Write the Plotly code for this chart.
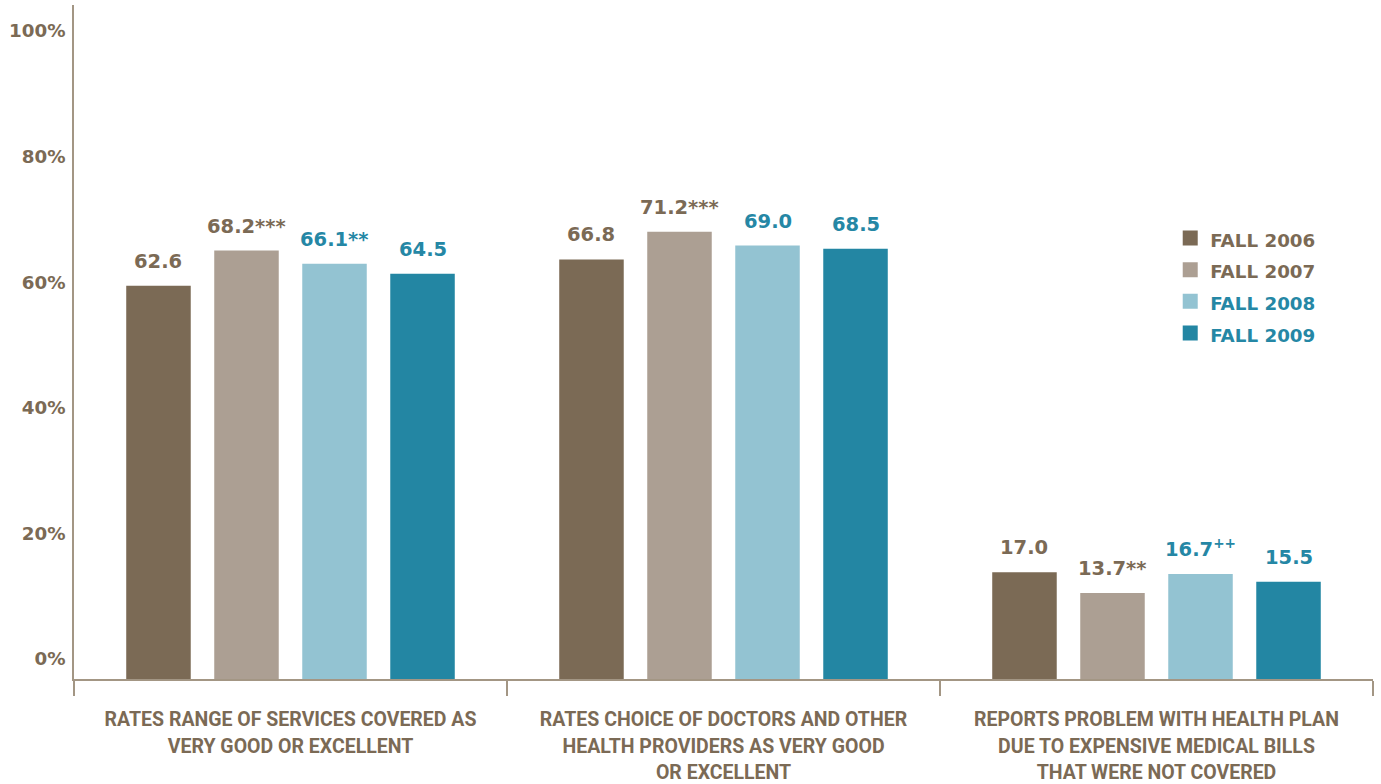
import plotly.graph_objects as go

# ---- data -------------------------------------------------------------
categories = [
    "RATES RANGE OF SERVICES COVERED AS<br>VERY GOOD OR EXCELLENT",
    "RATES CHOICE OF DOCTORS AND OTHER<br>HEALTH PROVIDERS AS VERY GOOD<br>OR EXCELLENT",
    "REPORTS PROBLEM WITH HEALTH PLAN<br>DUE TO EXPENSIVE MEDICAL BILLS<br>THAT WERE NOT COVERED",
]
series_names = ["FALL 2006", "FALL 2007", "FALL 2008", "FALL 2009"]
fall_2006 = [62.6, 66.8, 17.0]
fall_2007 = [68.2, 71.2, 13.7]
fall_2008 = [66.1, 69.0, 16.7]
fall_2009 = [64.5, 68.5, 15.5]
# significance markers printed after each value
marks_2006 = ["", "", ""]
marks_2007 = ["***", "***", "**"]
marks_2008 = ["**", "", "<sup>++</sup>"]
marks_2009 = ["", "", ""]
y_tick_values = [0, 20, 40, 60, 80, 100]
y_tick_labels = ["0%", "20%", "40%", "60%", "80%", "100%"]

# ---- styling ----------------------------------------------------------
BROWN = "#7b6a55"
TEAL_TEXT = "#2587a5"
bar_colors = ["#7b6a55", "#ac9f93", "#93c3d2", "#2386a3"]
label_colors = [BROWN, BROWN, TEAL_TEXT, TEAL_TEXT]
AXIS = "#a39684"
NUM_FONT = "DejaVu Sans"
CAT_FONT = "Roboto"
BARGAP = 0.187
BARGROUPGAP = 0.267

series_values = [fall_2006, fall_2007, fall_2008, fall_2009]
series_marks = [marks_2006, marks_2007, marks_2008, marks_2009]

fig = go.Figure()

for name, vals, color in zip(series_names, series_values, bar_colors):
    fig.add_trace(go.Bar(
        x=categories, y=vals, name=name,
        marker=dict(color=color, line=dict(width=0)),
        showlegend=False,
    ))

# legend entries with square swatches
for name, color, tcolor in zip(series_names, bar_colors, label_colors):
    fig.add_trace(go.Scatter(
        x=[None], y=[None], mode="markers",
        name=f"<span style='color:{tcolor};font-size:18.3px'>{name}</span>",
        marker=dict(symbol="square", size=15, color=color, line=dict(width=0)),
        showlegend=True,
    ))

# value labels above each bar, placed at the grouped bar centres
n = len(series_values)
slot = (1 - BARGAP) / n
annotations = []
for j, (vals, marks) in enumerate(zip(series_values, series_marks)):
    for i, (v, m) in enumerate(zip(vals, marks)):
        annotations.append(dict(
            x=i + (j - (n - 1) / 2) * slot, y=v, xref="x", yref="y",
            text=f"{v:.1f}{m}", showarrow=False,
            xanchor="center", yanchor="bottom", yshift=11,
            font=dict(family=NUM_FONT, size=19.5, color=label_colors[j], weight="bold"),
        ))

cat_ticktext = [
    "<br>".join(f"<span style='font-size:19.5px'>{line}</span>" for line in c.split("<br>"))
    for c in categories
]

fig.update_layout(
    width=1381, height=784,
    margin=dict(l=74, r=8, t=5, b=105),
    paper_bgcolor="white", plot_bgcolor="white",
    barmode="group", bargap=BARGAP, bargroupgap=BARGROUPGAP,
    annotations=annotations,
    legend=dict(
        x=0.8439, y=0.685, xanchor="left", yanchor="top",
        font=dict(family=NUM_FONT, size=22, color=BROWN, weight="bold"),
        bgcolor="rgba(0,0,0,0)", borderwidth=0,
    ),
    xaxis=dict(
        type="category", automargin=False,
        tickvals=categories, ticktext=cat_ticktext,
        tickson="boundaries", ticks="outside", ticklen=15,
        tickwidth=1.5, tickcolor=AXIS,
        showline=True, linecolor=AXIS, linewidth=1.5,
        showgrid=False, zeroline=False,
        ticklabelstandoff=21,
        tickfont=dict(family=CAT_FONT, size=20.4, color=BROWN, weight="bold"),
    ),
    yaxis=dict(
        range=[0, 107.3], automargin=False,
        tickvals=y_tick_values, ticktext=y_tick_labels,
        ticks="", showline=True, linecolor=AXIS, linewidth=1.5,
        showgrid=False, zeroline=False,
        ticklabelshift=-20, ticklabelstandoff=3,
        tickfont=dict(family=NUM_FONT, size=18.3, color=BROWN, weight="bold"),
    ),
)

fig.write_html("out.html")
